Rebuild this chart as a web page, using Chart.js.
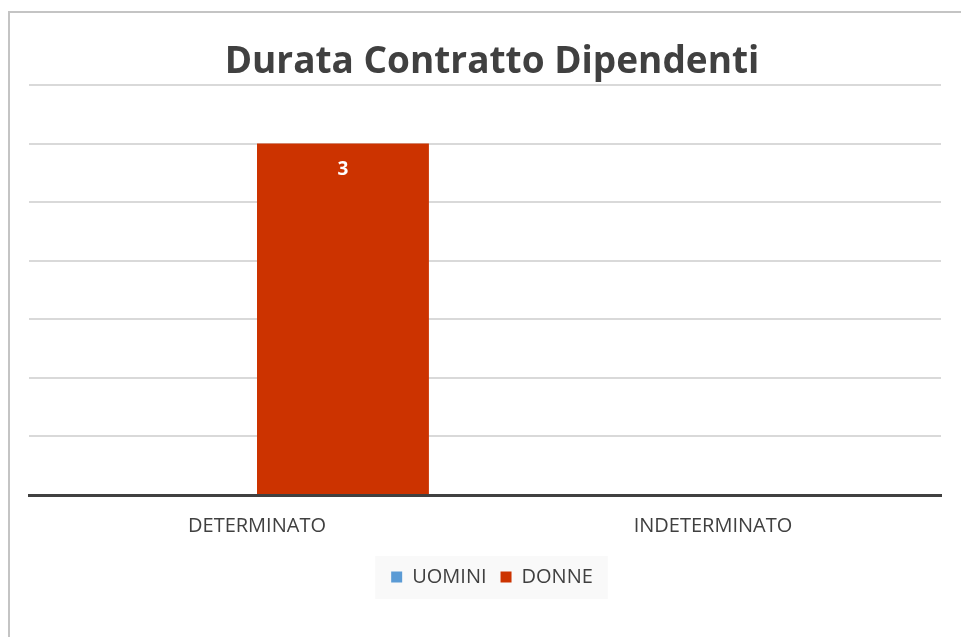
<!DOCTYPE html>
<html>
<head>
<meta charset="utf-8">
<script src="https://cdn.jsdelivr.net/npm/chart.js@4"></script>
<style>
  html, body { margin: 0; padding: 0; background: #ffffff; overflow: hidden; width: 961px; height: 637px; }
  #wrap { position: absolute; left: 0; top: 0; width: 984px; height: 637px; }
</style>
</head>
<body>
<div id="wrap"><canvas id="c" width="984" height="637"></canvas></div>
<script>
const categories = ["DETERMINATO", "INDETERMINATO"];
const seriesNames = ["UOMINI", "DONNE"];
const uomini = [0, 0];
const donne = [3, 0];
const seriesColors = ["#5b9bd5", "#cc3300"];
const titleText = "Durata Contratto Dipendenti";
const yMin = 0, yMax = 3.5, yStep = 0.5;

const frame = {
  id: 'frame',
  beforeDraw(chart) {
    const ctx = chart.ctx;
    ctx.save();
    ctx.fillStyle = '#ffffff';
    ctx.fillRect(0, 0, chart.width, chart.height);
    ctx.strokeStyle = '#c4c4c4';
    ctx.lineWidth = 2;
    ctx.beginPath();
    ctx.moveTo(9, chart.height + 5);
    ctx.lineTo(9, 12);
    ctx.lineTo(chart.width + 5, 12);
    ctx.stroke();
    const lg = chart.legend;
    if (lg && lg.legendHitBoxes && lg.legendHitBoxes.length) {
      const hb = lg.legendHitBoxes;
      const x0 = hb[0].left - 16;
      const x1 = hb[hb.length - 1].left + hb[hb.length - 1].width + 15;
      const cy = hb[0].top + hb[0].height / 2;
      ctx.fillStyle = '#f9f9f9';
      ctx.fillRect(x0, cy - 21, x1 - x0, 43);
    }
    ctx.restore();
  }
};

const valueLabels = {
  id: 'valueLabels',
  afterDatasetsDraw(chart) {
    const ctx = chart.ctx;
    ctx.save();
    ctx.fillStyle = '#ffffff';
    ctx.font = 'bold 19px "Open Sans"';
    ctx.textAlign = 'center';
    ctx.textBaseline = 'middle';
    chart.data.datasets.forEach((ds, i) => {
      const meta = chart.getDatasetMeta(i);
      meta.data.forEach((bar, j) => {
        const v = ds.data[j];
        if (v > 0) ctx.fillText(String(v), bar.x, bar.y + 26);
      });
    });
    ctx.restore();
  }
};

new Chart(document.getElementById('c'), {
  type: 'bar',
  data: {
    labels: categories,
    datasets: [
      { label: seriesNames[0], data: uomini, backgroundColor: seriesColors[0], yAxisID: 'y' },
      { label: seriesNames[1], data: donne, backgroundColor: seriesColors[1], yAxisID: 'y' }
    ]
  },
  options: {
    responsive: false,
    animation: false,
    devicePixelRatio: 1,
    categoryPercentage: 0.754,
    barPercentage: 1.0,
    layout: { padding: { left: 29, right: 29, top: 0, bottom: 40 } },
    scales: {
      x: {
        grid: { display: false },
        border: { display: true, color: '#404040', width: 3 },
        ticks: { color: '#404040', font: { family: 'Open Sans', size: 20 }, padding: 11 },
        afterFit(s) { s.height = 58; }
      },
      y: {
        min: yMin, max: yMax,
        ticks: { display: false, stepSize: yStep },
        grid: { color: '#d9d9d9', lineWidth: 2, drawTicks: false },
        border: { display: false },
        afterFit(s) { s.width = 0; }
      },
      yR: {
        position: 'right',
        min: yMin, max: yMax,
        ticks: { display: false },
        grid: { display: false, drawTicks: false },
        border: { display: false },
        afterFit(s) { s.width = 14; }
      }
    },
    plugins: {
      title: {
        display: true,
        text: titleText,
        color: '#404040',
        font: { family: 'Open Sans', size: 37, weight: 'bold' },
        padding: { top: 40.6, bottom: 0 }
      },
      legend: {
        position: 'bottom',
        labels: {
          boxWidth: 11, boxHeight: 11,
          color: '#404040',
          font: { family: 'Open Sans', size: 20 },
          padding: 14
        }
      },
      tooltip: { enabled: false }
    }
  },
  plugins: [frame, valueLabels]
});
</script>
</body>
</html>
